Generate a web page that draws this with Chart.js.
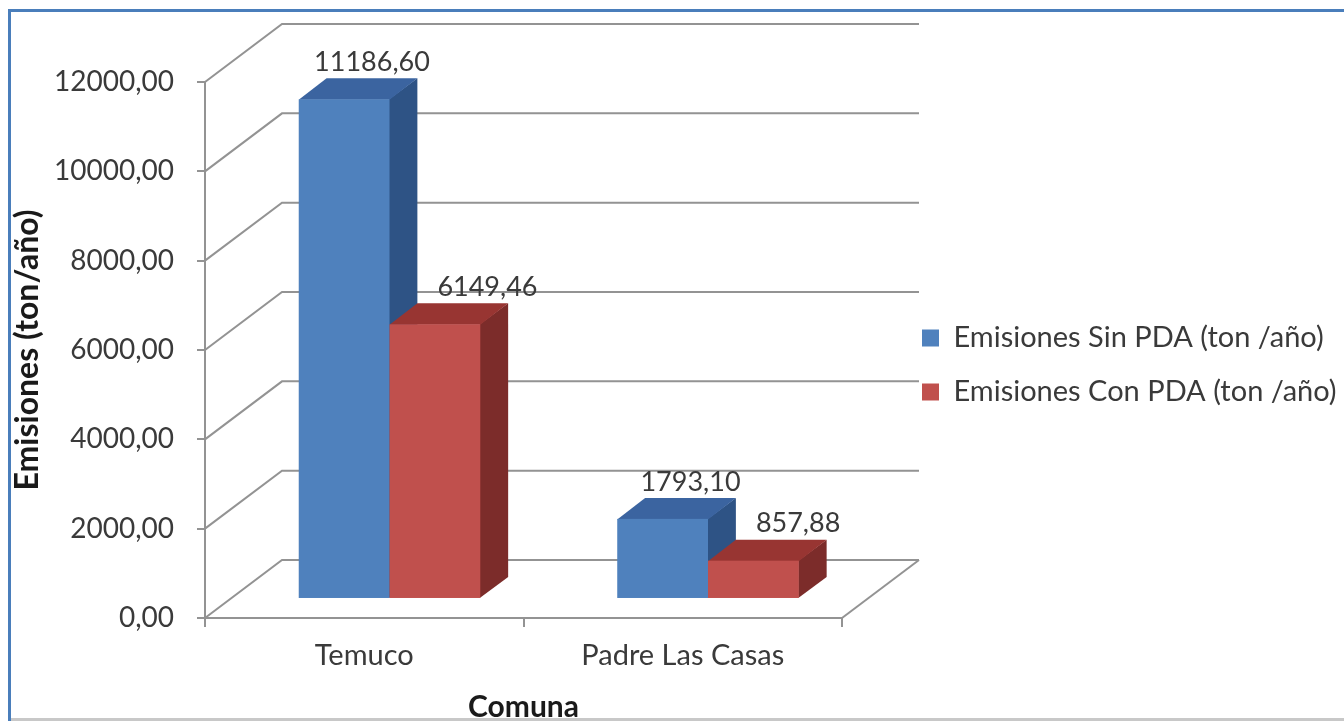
<!DOCTYPE html>
<html>
<head>
<meta charset="utf-8">
<script src="https://cdn.jsdelivr.net/npm/chart.js@4.4.1/dist/chart.umd.min.js"></script>
<style>
  html, body { margin: 0; padding: 0; background: #ffffff; overflow: hidden; }
  #wrap { width: 1344px; height: 721px; position: relative; }
  canvas { display: block; }
</style>
</head>
<body>
<div id="wrap"><canvas id="c" width="1344" height="721"></canvas></div>
<script>
// ---- data ----
const categories = ['Temuco', 'Padre Las Casas'];
const sinPDA = [11186.60, 1793.10];
const conPDA = [6149.46, 857.88];
const seriesNames = ['Emisiones Sin PDA (ton /año)', 'Emisiones Con PDA (ton /año)'];
const yTickValues = [0, 2000, 4000, 6000, 8000, 10000, 12000];
const yAxisTitle = 'Emisiones (ton/año)';
const xAxisTitle = 'Comuna';

// ---- style ----
const FONT = 'Lato';
const TEXT = '#3a3a3a';
const GRID = '#939393';
const FACES = [
  { front: '#4f81bd', top: '#3b64a0', side: '#2e5385' },
  { front: '#c0504d', top: '#983532', side: '#7c2c2a' }
];
const GEO = { dx: 77, dy: -58, z1: 0.328, z2: 0.69 };

const fmt = v => v.toFixed(2).replace('.', ',');

const threeD = {
  id: 'threeD',
  beforeInit(chart) {
    const lg = chart.legend;
    if (lg) {
      const fit = lg.fit;
      lg.fit = function () { fit.call(this); this.width = 502; };
    }
  },
  afterLayout(chart) {
    const lg = chart.legend;
    if (lg) { lg.left += 55; lg.right += 55; lg.top += 15; lg.bottom += 15; }
  },
  beforeDraw(chart) {
    const ctx = chart.ctx;
    ctx.save();
    ctx.fillStyle = '#ffffff';
    ctx.fillRect(0, 0, chart.width, chart.height);
    ctx.fillStyle = '#4a7ebb';
    ctx.fillRect(8, 9, chart.width - 8, 3);
    ctx.fillRect(8, 9, 3, chart.height - 9);
    ctx.fillStyle = '#c8c8c8';
    ctx.fillRect(11, chart.height - 3, chart.width - 11, 3);
    ctx.restore();
  },
  beforeDatasetsDraw(chart) {
    const ctx = chart.ctx;
    const { left, right, bottom } = chart.chartArea;
    const ys = chart.scales.y;
    const g = GEO;
    ctx.save();
    // walls & floor
    ctx.strokeStyle = GRID;
    ctx.lineWidth = 2;
    ys.ticks.forEach(t => {
      const y = ys.getPixelForValue(t.value);
      ctx.beginPath();
      ctx.moveTo(left, y);
      ctx.lineTo(left + g.dx, y + g.dy);
      ctx.lineTo(right + g.dx, y + g.dy);
      ctx.stroke();
    });
    ctx.beginPath();
    ctx.moveTo(right, bottom);
    ctx.lineTo(right + g.dx, bottom + g.dy);
    ctx.stroke();

    // bars
    const ox = g.z1 * g.dx, oy = g.z1 * g.dy;
    const ddx = (g.z2 - g.z1) * g.dx, ddy = (g.z2 - g.z1) * g.dy;
    const nSets = chart.data.datasets.length;
    const nCats = chart.data.labels.length;
    const boxes = [];
    for (let j = 0; j < nCats; j++) {
      boxes[j] = [];
      for (let i = 0; i < nSets; i++) {
        const el = chart.getDatasetMeta(i).data[j];
        const p = el.getProps(['x', 'y', 'base', 'width'], true);
        const x0 = p.x - p.width / 2 + ox, x1 = p.x + p.width / 2 + ox;
        const yT = p.y + oy, yB = p.base + oy;
        const c = FACES[i];
        ctx.fillStyle = c.side;
        ctx.beginPath();
        ctx.moveTo(x1 - 0.5, yT); ctx.lineTo(x1 + ddx, yT + ddy);
        ctx.lineTo(x1 + ddx, yB + ddy); ctx.lineTo(x1 - 0.5, yB);
        ctx.closePath(); ctx.fill();
        ctx.fillStyle = c.top;
        ctx.beginPath();
        ctx.moveTo(x0, yT + 0.5); ctx.lineTo(x0 + ddx, yT + ddy);
        ctx.lineTo(x1 + ddx, yT + ddy); ctx.lineTo(x1, yT + 0.5);
        ctx.closePath(); ctx.fill();
        ctx.fillStyle = c.front;
        ctx.fillRect(x0, yT, x1 - x0, yB - yT);
        boxes[j][i] = { x0, x1, yT, yB, value: chart.data.datasets[i].data[j] };
      }
    }
    // value labels
    ctx.font = '27px ' + FONT;
    ctx.fillStyle = TEXT;
    ctx.textAlign = 'center';
    ctx.textBaseline = 'middle';
    for (let j = 0; j < nCats; j++) {
      for (let i = 0; i < nSets; i++) {
        const b = boxes[j][i];
        const txt = fmt(b.value);
        const w = ctx.measureText(txt).width;
        let cx = (b.x0 + b.x1) / 2 + ddx;
        const cy = b.yT + ddy - 16;
        if (i > 0) {
          const prev = boxes[j][i - 1];
          const prevRight = prev.x1 + ddx;
          if (cx - w / 2 < prevRight + 4 && cy > prev.yT + ddy) cx = prevRight + 20 + w / 2;
        }
        ctx.fillText(txt, cx, cy);
      }
    }
    ctx.restore();
    return false;
  }
};

Chart.defaults.font.family = FONT;
Chart.defaults.color = TEXT;

new Chart(document.getElementById('c'), {
  type: 'bar',
  data: {
    labels: categories,
    datasets: [
      { label: seriesNames[0], data: sinPDA, backgroundColor: FACES[0].front, borderWidth: 0 },
      { label: seriesNames[1], data: conPDA, backgroundColor: FACES[1].front, borderWidth: 0 }
    ]
  },
  options: {
    responsive: false,
    animation: false,
    devicePixelRatio: 1,
    layout: { padding: { left: 0, top: 82, right: 0, bottom: 0 } },
    datasets: { bar: { categoryPercentage: 0.57, barPercentage: 1.0 } },
    plugins: {
      tooltip: { enabled: false },
      legend: {
        position: 'right',
        fullSize: false,
        maxWidth: 700,
        labels: {
          boxWidth: 17,
          boxHeight: 17,
          padding: 25,
          color: TEXT,
          font: { size: 29, family: FONT }
        }
      }
    },
    scales: {
      x: {
        offset: true,
        grid: { display: true, drawOnChartArea: false, drawTicks: true, tickLength: 9, color: GRID, lineWidth: 2, offset: true },
        border: { display: true, color: GRID, width: 2 },
        ticks: { color: TEXT, font: { size: 29 }, padding: 11, maxRotation: 0 },
        title: { display: true, text: xAxisTitle, color: '#1a1a1a', font: { size: 30, weight: 'bold' }, padding: { top: 0, bottom: -4 } },
        afterFit: s => { s.height = 103; }
      },
      y: {
        min: 0,
        max: 12000,
        afterBuildTicks: s => { s.ticks = yTickValues.map(v => ({ value: v })); },
        grid: { display: true, drawOnChartArea: false, drawTicks: true, tickLength: 8, color: GRID, lineWidth: 2 },
        border: { display: true, color: GRID, width: 2 },
        ticks: { color: TEXT, font: { size: 28 }, padding: 23, callback: v => fmt(v) },
        title: { display: true, text: yAxisTitle, color: '#1a1a1a', font: { size: 32, weight: 'bold' }, padding: { top: 8, bottom: 0 } },
        afterFit: s => { s.width = 205; }
      }
    }
  },
  plugins: [threeD]
});
</script>
</body>
</html>
